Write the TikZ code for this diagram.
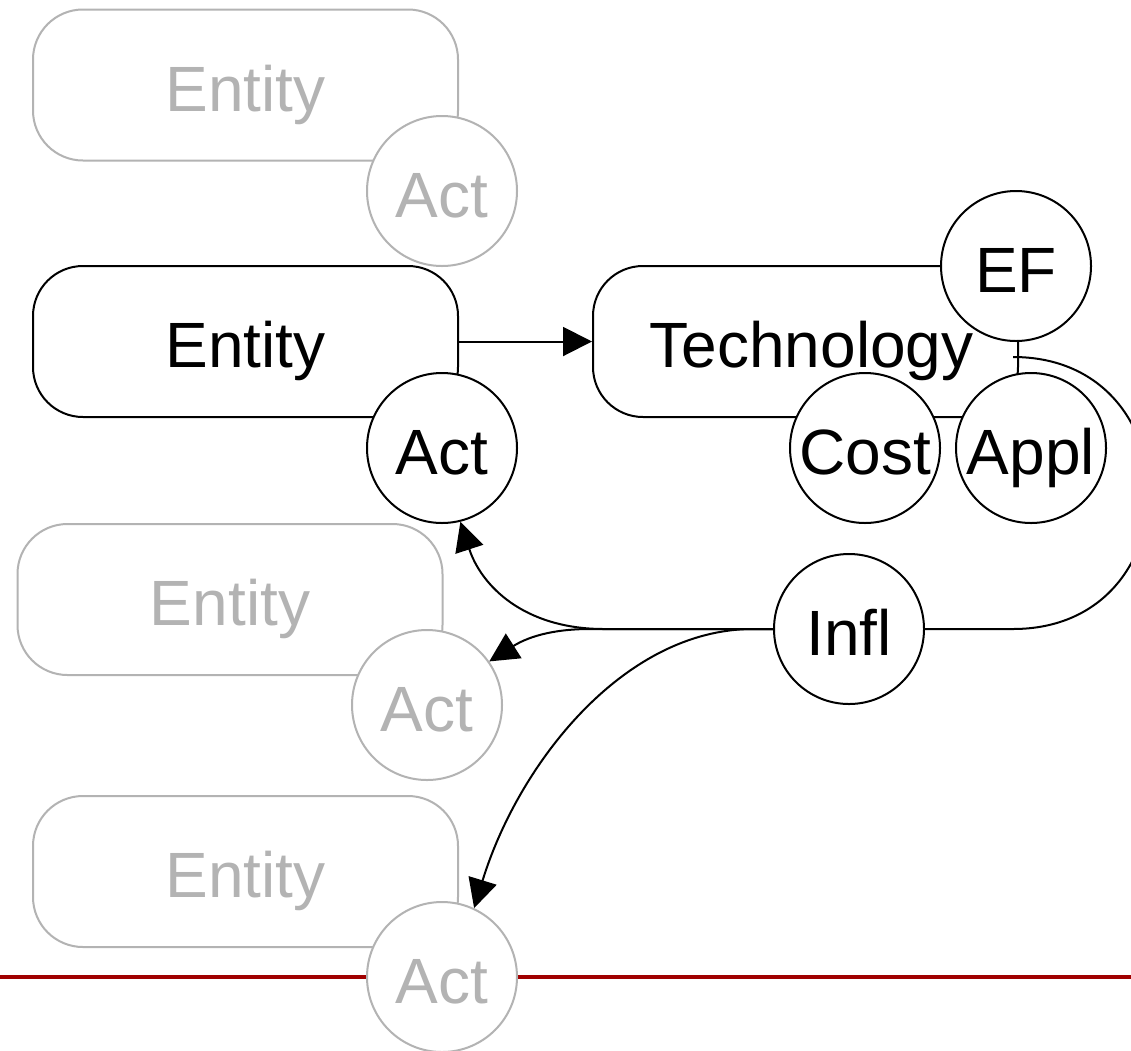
\documentclass[tikz,border=0pt]{standalone}
\usepackage{fontspec}
\setmainfont{Liberation Sans}
\usetikzlibrary{arrows.meta}
\definecolor{gr}{RGB}{179,179,179}
\definecolor{dred}{RGB}{160,0,0}
\begin{document}
\begin{tikzpicture}[x=1pt,y=-1pt,
  txt/.style={font=\fontsize{64}{64}\selectfont, text height=52pt, text depth=0pt, inner sep=0pt},
  ebox/.style={txt, draw, line width=2pt, rounded corners=50pt, minimum width=425pt, minimum height=151pt},
  gbox/.style={ebox, draw=gr, text=gr},
  circ/.style={txt, draw, circle, fill=white, line width=2pt, minimum size=150pt},
  gcirc/.style={circ, draw=gr, text=gr},
  conn/.style={line width=2pt},
  arr/.style={conn, -{Triangle[length=29pt,width=29pt]}}]
\useasboundingbox (0,0) rectangle (1131,1050);
\clip (0,0) rectangle (1131,1050);
\fill[white] (0,0) rectangle (1131,1050);
% boxes
\node[gbox] (ent1) at (245.5,85) {Entity};
\node[ebox] (ent2) at (245.5,341.5) {Entity};
\node[gbox] (ent3) at (230,599.5) {Entity};
\node[gbox] (ent4) at (245.5,871.5) {Entity};
\node[ebox] (tech) at (805.5,341.5) {\hspace*{12pt}Technology};
% red line
\draw[dred, line width=4pt] (0,977) coordinate (rl) -- (1131,977) coordinate (rr);
% circles
\node[gcirc] (act1) at (442,191) {Act};
\node[circ] (act2) at (442,448) {Act};
\node[gcirc] (act3) at (427,705) {Act};
\node[gcirc] (act4) at (442,977) {Act};
\node[circ] (ef) at (1016,266) {EF};
\node[circ] (cost) at (865,448) {Cost};
\node[circ] (appl) at (1031,448) {Appl};
\node[circ] (infl) at (849,629) {Infl};
% connectors
\draw[arr] (ent2.east) -- (tech.west);
\coordinate (ja) at (604,629);
\coordinate (jb) at (590,629);
\coordinate (jc) at (753,629);
\draw[arr] (infl.west) -- (ja) .. controls (523,629) and (481,585) .. (act2.-76);
\draw[arr] (infl.west) -- (jb) .. controls (550,629) and (526,638) .. (act3.35);
\draw[arr] (infl.west) -- (jc) .. controls (623,629) and (518,765) .. (act4.65);
\coordinate (loopstart) at (1013,357);
\coordinate (loopend) at (1013,629);
\draw[conn] (loopstart) .. controls (1194,357) and (1194,629) .. (loopend) -- (infl.east);
\end{tikzpicture}
\end{document}
